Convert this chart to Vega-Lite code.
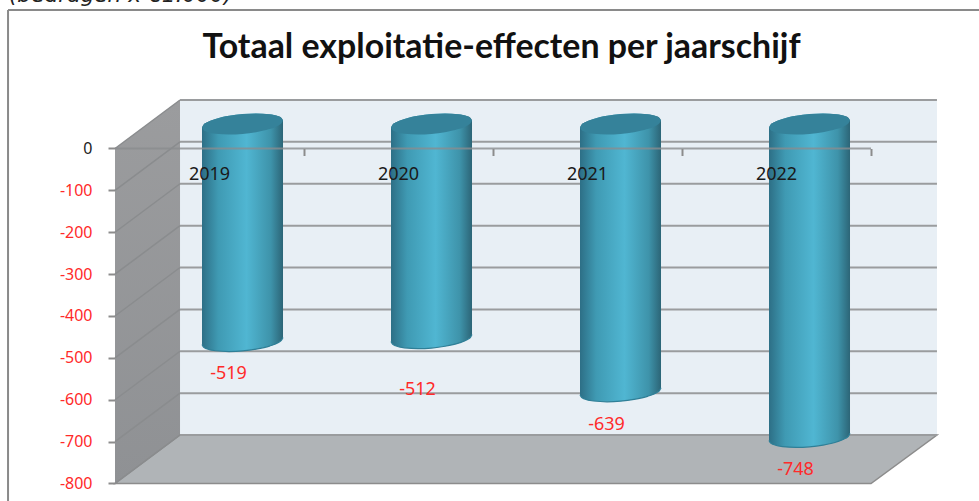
{"$schema":"https://vega.github.io/schema/vega-lite/v6.json","width":979,"height":501,"padding":0,"autosize":{"type":"none"},"background":"white","view":{"stroke":null},
"title":{"text":"Totaal exploitatie-effecten per jaarschijf","anchor":"middle","frame":"group","dx":12,"dy":107,"offset":0,"baseline":"alphabetic","font":"Lato","fontWeight":"bold","fontSize":33.9,"color":"#111111"},
"datasets":{
"jaren":[{"jaar":"2019","pos":0.5,"waarde":-519},{"jaar":"2020","pos":1.5,"waarde":-512},{"jaar":"2021","pos":2.5,"waarde":-639},{"jaar":"2022","pos":3.5,"waarde":-748}],
"raster":[{"v":0,"back":115.8},{"v":-100,"back":15.8},{"v":-200,"back":-84.2},{"v":-300,"back":-184.2},{"v":-400,"back":-284.2},{"v":-500,"back":-384.2},{"v":-600,"back":-484.2},{"v":-700,"back":-584.2},{"v":-800,"back":-684.2}],
"zijwand":[{"x":0,"boven":0,"onder":-800},{"x":0.344,"boven":115.8,"onder":-684.2}],
"vloer":[{"x":0,"boven":-800,"onder":-800},{"x":0.344,"boven":-684.2,"onder":-800},{"x":4,"boven":-684.2,"onder":-800},{"x":4.349,"boven":-684.2,"onder":-684.2}],
"cilinders":[
{"jaar":"2019","x":0.4603,"capTop":50.1,"capBot":50.1,"bodem":-468},{"jaar":"2019","x":0.4683,"capTop":56.9,"capBot":44,"bodem":-474.1},{"jaar":"2019","x":0.4841,"capTop":62,"capBot":40.1,"bodem":-478},{"jaar":"2019","x":0.5317,"capTop":70.7,"capBot":35.1,"bodem":-483},{"jaar":"2019","x":0.6032,"capTop":78.2,"capBot":33.2,"bodem":-484.9},{"jaar":"2019","x":0.6746,"capTop":82.4,"capBot":34.6,"bodem":-483.5},{"jaar":"2019","x":0.746,"capTop":83.8,"capBot":38.8,"bodem":-479.3},{"jaar":"2019","x":0.8175,"capTop":81.9,"capBot":46.3,"bodem":-471.8},{"jaar":"2019","x":0.8651,"capTop":76.9,"capBot":55,"bodem":-463.1},{"jaar":"2019","x":0.8809,"capTop":73,"capBot":60.1,"bodem":-458},{"jaar":"2019","x":0.8889,"capTop":66.9,"capBot":66.9,"bodem":-451.2},
{"jaar":"2020","x":1.4603,"capTop":50.1,"capBot":50.1,"bodem":-461},{"jaar":"2020","x":1.4683,"capTop":56.9,"capBot":44,"bodem":-467.1},{"jaar":"2020","x":1.4841,"capTop":62,"capBot":40.1,"bodem":-471},{"jaar":"2020","x":1.5317,"capTop":70.7,"capBot":35.1,"bodem":-476},{"jaar":"2020","x":1.6032,"capTop":78.2,"capBot":33.2,"bodem":-477.9},{"jaar":"2020","x":1.6746,"capTop":82.4,"capBot":34.6,"bodem":-476.5},{"jaar":"2020","x":1.746,"capTop":83.8,"capBot":38.8,"bodem":-472.3},{"jaar":"2020","x":1.8175,"capTop":81.9,"capBot":46.3,"bodem":-464.8},{"jaar":"2020","x":1.8651,"capTop":76.9,"capBot":55,"bodem":-456.1},{"jaar":"2020","x":1.8809,"capTop":73,"capBot":60.1,"bodem":-451},{"jaar":"2020","x":1.8889,"capTop":66.9,"capBot":66.9,"bodem":-444.2},
{"jaar":"2021","x":2.4603,"capTop":50.1,"capBot":50.1,"bodem":-588},{"jaar":"2021","x":2.4683,"capTop":56.9,"capBot":44,"bodem":-594.1},{"jaar":"2021","x":2.4841,"capTop":62,"capBot":40.1,"bodem":-598},{"jaar":"2021","x":2.5317,"capTop":70.7,"capBot":35.1,"bodem":-603},{"jaar":"2021","x":2.6032,"capTop":78.2,"capBot":33.2,"bodem":-604.9},{"jaar":"2021","x":2.6746,"capTop":82.4,"capBot":34.6,"bodem":-603.5},{"jaar":"2021","x":2.746,"capTop":83.8,"capBot":38.8,"bodem":-599.3},{"jaar":"2021","x":2.8175,"capTop":81.9,"capBot":46.3,"bodem":-591.8},{"jaar":"2021","x":2.8651,"capTop":76.9,"capBot":55,"bodem":-583.1},{"jaar":"2021","x":2.8809,"capTop":73,"capBot":60.1,"bodem":-578},{"jaar":"2021","x":2.8889,"capTop":66.9,"capBot":66.9,"bodem":-571.2},
{"jaar":"2022","x":3.4603,"capTop":50.1,"capBot":50.1,"bodem":-697},{"jaar":"2022","x":3.4683,"capTop":56.9,"capBot":44,"bodem":-703.1},{"jaar":"2022","x":3.4841,"capTop":62,"capBot":40.1,"bodem":-707},{"jaar":"2022","x":3.5317,"capTop":70.7,"capBot":35.1,"bodem":-712},{"jaar":"2022","x":3.6032,"capTop":78.2,"capBot":33.2,"bodem":-713.9},{"jaar":"2022","x":3.6746,"capTop":82.4,"capBot":34.6,"bodem":-712.5},{"jaar":"2022","x":3.746,"capTop":83.8,"capBot":38.8,"bodem":-708.3},{"jaar":"2022","x":3.8175,"capTop":81.9,"capBot":46.3,"bodem":-700.8},{"jaar":"2022","x":3.8651,"capTop":76.9,"capBot":55,"bodem":-692.1},{"jaar":"2022","x":3.8809,"capTop":73,"capBot":60.1,"bodem":-687},{"jaar":"2022","x":3.8889,"capTop":66.9,"capBot":66.9,"bodem":-680.2}
]},
"layer":[
{"data":{"name":"raster"},"mark":{"type":"rect","fill":"#e8eff5"},"encoding":{
"x":{"datum":0.344,"type":"quantitative","title":null,"scale":{"domain":[-0.6085,4.5714],"nice":false,"zero":false},"axis":{"title":null,"values":[1,2,3,4],"labels":false,"domain":false,"grid":false,"orient":"bottom","offset":-352.5,"ticks":true,"tickSize":7,"tickColor":"#8c8c8c","tickWidth":2,"zindex":1}},
"x2":{"datum":4.349},
"y":{"datum":115.8,"type":"quantitative","title":null,"scale":{"domain":[-841.8,354.6],"nice":false,"zero":false},"axis":{"title":null,"values":[0,-100,-200,-300,-400,-500,-600,-700,-800],"labelExpr":"'' + datum.value","orient":"left","offset":-115,"domain":false,"grid":false,"tickSize":7,"tickColor":"#8c8c8c","tickWidth":2,"labelPadding":16,"labelFont":"Noto Sans","labelFontSize":16,"labelColor":{"condition":{"test":"datum.value < 0","value":"#ff2a2a"},"value":"#222222"}}},
"y2":{"datum":-684.2}}},
{"data":{"name":"zijwand"},"mark":{"type":"area","orient":"vertical","fill":{"x1":0,"y1":0,"x2":0,"y2":1,"gradient":"linear","stops":[{"offset":0,"color":"#9b9c9e"},{"offset":1,"color":"#8f9194"}]}},"encoding":{"x":{"field":"x","type":"quantitative","title":null},"y":{"field":"boven","type":"quantitative","title":null},"y2":{"field":"onder"}}},
{"data":{"name":"vloer"},"mark":{"type":"area","orient":"vertical","fill":"#b0b4b7","stroke":"#8c8c8c","strokeWidth":1.5},"encoding":{"x":{"field":"x","type":"quantitative","title":null},"y":{"field":"boven","type":"quantitative","title":null},"y2":{"field":"onder"}}},
{"data":{"name":"raster"},"mark":{"type":"rule","color":"#8a8c8e","strokeWidth":1.5},"encoding":{"x":{"datum":0,"type":"quantitative","title":null},"x2":{"datum":0.344},"y":{"field":"v","type":"quantitative","title":null},"y2":{"field":"back"}}},
{"data":{"name":"raster"},"mark":{"type":"rule","color":"#9a9c9e","strokeWidth":2},"encoding":{"x":{"datum":0.344,"type":"quantitative","title":null},"x2":{"datum":4.349},"y":{"field":"back","type":"quantitative","title":null}}},
{"data":{"name":"cilinders"},"mark":{"type":"area","orient":"vertical","interpolate":"monotone","fill":{"x1":0,"y1":0,"x2":1,"y2":0,"gradient":"linear","stops":[{"offset":0,"color":"#2d6f86"},{"offset":0.2,"color":"#3f9ab3"},{"offset":0.55,"color":"#50b6d2"},{"offset":0.85,"color":"#3e93aa"},{"offset":1,"color":"#2c6577"}]}},"encoding":{"x":{"field":"x","type":"quantitative","title":null},"y":{"field":"capTop","type":"quantitative","title":null},"y2":{"field":"bodem"},"detail":{"field":"jaar"}}},
{"data":{"name":"cilinders"},"mark":{"type":"line","interpolate":"monotone","color":"#2f7f97","strokeWidth":1.2},"encoding":{"x":{"field":"x","type":"quantitative","title":null},"y":{"field":"bodem","type":"quantitative","title":null},"detail":{"field":"jaar"}}},
{"data":{"name":"cilinders"},"mark":{"type":"area","orient":"vertical","interpolate":"monotone","fill":"#35829a"},"encoding":{"x":{"field":"x","type":"quantitative","title":null},"y":{"field":"capTop","type":"quantitative","title":null},"y2":{"field":"capBot"},"detail":{"field":"jaar"}}},
{"data":{"values":[{"a":0}]},"mark":{"type":"rule","color":"#8a8c8e","strokeWidth":2,"opacity":0.8},"encoding":{"x":{"datum":0,"type":"quantitative","title":null},"x2":{"datum":4},"y":{"datum":0,"type":"quantitative","title":null}}},
{"data":{"name":"jaren"},"mark":{"type":"text","font":"Noto Sans","fontSize":18,"color":"#1a1a1a","dy":26.5,"baseline":"middle"},"encoding":{"x":{"field":"pos","type":"quantitative","title":null},"y":{"datum":0,"type":"quantitative","title":null},"text":{"field":"jaar"}}},
{"data":{"name":"jaren"},"transform":[{"filter":"datum.jaar != '2020'"}],"mark":{"type":"text","font":"Noto Sans","fontSize":18,"color":"#ff2a2a","dx":19,"dy":8.5,"baseline":"middle"},"encoding":{"x":{"field":"pos","type":"quantitative","title":null},"y":{"field":"waarde","type":"quantitative","title":null},"text":{"field":"waarde"}}},
{"data":{"name":"jaren"},"transform":[{"filter":"datum.jaar == '2020'"}],"mark":{"type":"text","font":"Noto Sans","fontSize":18,"color":"#ff2a2a","dx":19,"dy":27,"baseline":"middle"},"encoding":{"x":{"field":"pos","type":"quantitative","title":null},"y":{"field":"waarde","type":"quantitative","title":null},"text":{"field":"waarde"}}},
{"data":{"values":[{"a":0}]},"mark":{"type":"rule","color":"#8a8a8a","strokeWidth":2},"encoding":{"x":{"datum":-0.566,"type":"quantitative","title":null},"x2":{"datum":4.5714},"y":{"datum":330.7,"type":"quantitative","title":null}}},
{"data":{"values":[{"a":0}]},"mark":{"type":"rule","color":"#8a8a8a","strokeWidth":2},"encoding":{"x":{"datum":-0.566,"type":"quantitative","title":null},"y":{"datum":330.7,"type":"quantitative","title":null},"y2":{"datum":-841.8}}},
{"data":{"values":[{"tekst":"(bedragen x €1.000)"}]},"mark":{"type":"text","font":"DejaVu Sans","fontStyle":"italic","fontSize":21.7,"align":"left","baseline":"alphabetic","color":"#222222"},"encoding":{"x":{"datum":-0.5614,"type":"quantitative","title":null},"y":{"datum":349.8,"type":"quantitative","title":null},"text":{"field":"tekst"}}}
]}
